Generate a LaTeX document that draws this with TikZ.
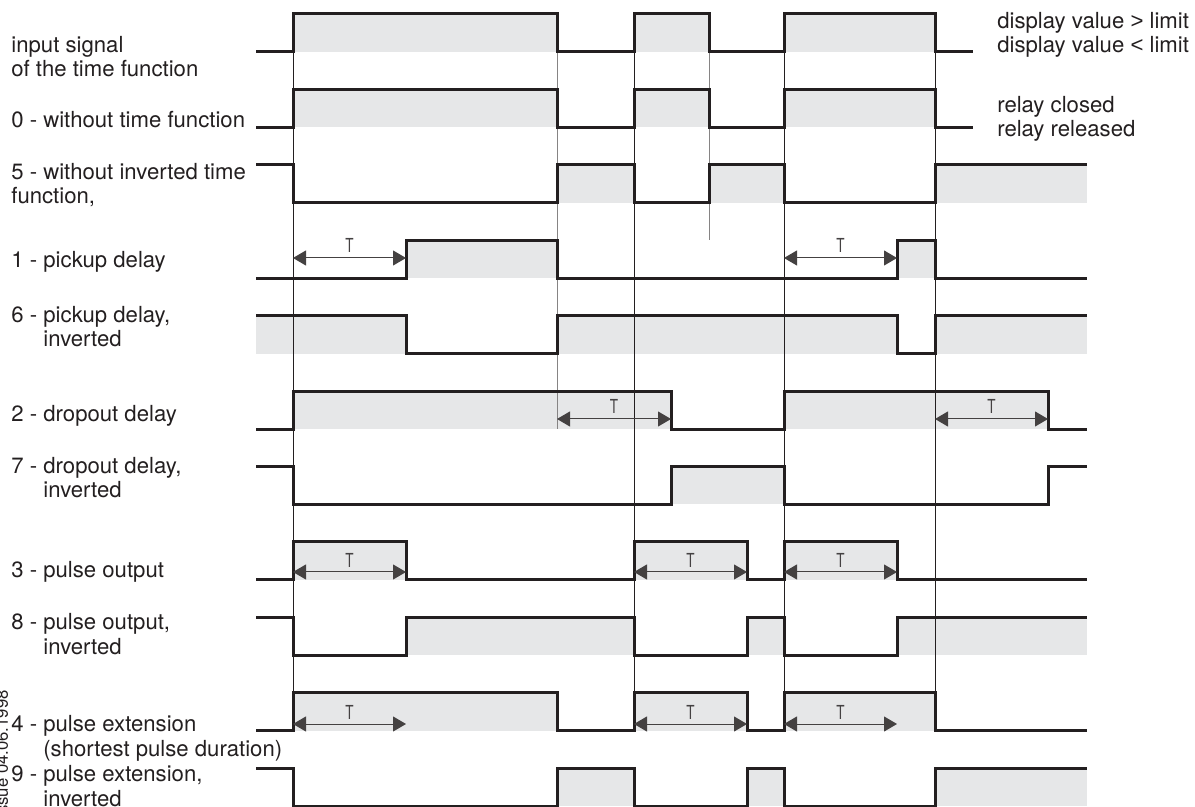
\documentclass[tikz,border=0pt]{standalone}
\usepackage{fontspec}
\setmainfont{TeX Gyre Heros}
\newfontfamily\relsym{Liberation Sans}
\usetikzlibrary{arrows.meta,positioning}

\definecolor{ink}{RGB}{35,31,32}
\definecolor{bgshade}{RGB}{230,231,232}
\newcommand{\ind}{\hphantom{0 - }}
% row / start point / transitions (x/level) / shaded spans
\newcommand{\timingrows}{%
    0/{256,52}/{293/14,557/52,634/14,709/52,784/14,935/52,973/52}/{293/557,634/709,784/935},
    1/{256,52}/{293/14,557/52,634/14,709/52,784/14,935/52,973/52}/{293/557,634/709,784/935},
    2/{256,14}/{293/52,557/14,634/52,709/14,784/52,935/14,1087/14}/{557/634,709/784,935/1087},
    3/{256,52}/{406/14,557/52,897/14,935/52,1087/52}/{406/557,897/935},
    4/{256,14}/{406/52,557/14,897/52,935/14,1087/14}/{256/406,557/897,935/1087},
    5/{256,52}/{293/14,671/52,784/14,1048/52,1087/52}/{293/671,784/1048},
    6/{256,14}/{293/52,671/14,784/52,1048/14,1087/14}/{671/784},
    7/{256,52}/{293/14,406/52,634/14,747/52,784/14,897/52,1087/52}/{293/406,634/747,784/897},
    8/{256,14}/{293/52,406/14,634/52,747/14,784/52,897/14,1087/14}/{406/634,747/784,897/1087},
    9/{256,52}/{293/14,557/52,634/14,747/52,784/14,935/52,1087/52}/{293/557,634/747,784/935},
    10/{256,14}/{293/52,557/14,634/52,747/14,784/52,935/14,1087/14}/{557/634,747/784,935/1087}}

\begin{document}
\begin{tikzpicture}[
        x=0.2mm, y=-0.2mm,
        font=\fontsize{12.6}{14.2}\selectfont,
        lbl/.style={anchor=base west, align=left, inner sep=0pt, text=ink},
        tlbl/.style={inner sep=0pt, text=ink!85, font=\fontsize{11}{12}\selectfont},
        signal/.style={draw=ink, line width=0.6mm},
        level/.style={fill=bgshade},
        edge/.style={draw=ink, line width=0.2mm},
        faint/.style={draw=ink!55, line width=0.2mm},
        dim/.style={{Triangle[length=2.6mm,width=3mm]}-{Triangle[length=2.6mm,width=3mm]}, draw=ink!85, line width=0.2mm}
    ]
    \useasboundingbox (0,0) rectangle (1195,807);

    % shaded high levels
    \foreach \i/\start/\pts/\boxes in \timingrows {
        \begin{scope}[yshift={-15.08mm*\i}]
            \foreach \a/\b in \boxes {\fill[level] (\a,14) rectangle (\b,52);}
        \end{scope}
    }

    % switching instants
    \foreach \x/\yb/\st in {293/732/edge, 557/429/faint, 634/732/edge, 709/240/faint, 784/732/edge, 935/694/edge} {
        \draw[\st] (\x,14) -- (\x,\yb);
    }

    % signals
    \foreach \i/\start/\pts/\boxes in \timingrows {
        \begin{scope}[yshift={-15.08mm*\i}]
            \draw[signal] (\start) \foreach \x/\y in \pts {-| (\x,\y)};
        \end{scope}
    }

    % time T
    \foreach \n/\a/\b/\y in {pua/293/406/258, pub/784/897/258, doa/557/671/419, dob/935/1048/419,
            poa/293/406/572, pob/634/747/572, poc/784/897/572, pea/293/406/724, peb/634/747/724, pec/784/897/724} {
        \coordinate (\n-l) at (\a,\y);
        \coordinate (\n-r) at (\b,\y);
        \draw[dim] (\n-l) -- node[tlbl, above=0.9mm] (\n-t) {\scalebox{0.7}[1]{T}} (\n-r);
    }

    % labels (base = last line)
    \node[lbl] (lin) at (11,77) {input signal\\of the time function};
    \node[lbl] (lzero) at (11,128) {0 - without time function};
    \node[lbl] (lfive) at (11,204) {5 - without inverted time\\function,};
    \node[lbl] (lone) at (11,268) {1 - pickup delay};
    \node[lbl] (lsix) at (11,347) {6 - pickup delay,\\\ind inverted};
    \node[lbl] (ltwo) at (11,422) {2 - dropout delay};
    \node[lbl] (lseven) at (11,498) {7 - dropout delay,\\\ind inverted};
    \node[lbl] (lthree) at (11,578) {3 - pulse output};
    \node[lbl] (leight) at (11,654) {8 - pulse output,\\\ind inverted};
    \node[lbl] (lfour) at (11,756) {4 - pulse extension\\\ind (shortest pulse duration)};
    \node[lbl] (lnine) at (11,806) {9 - pulse extension,\\\ind inverted};

    \node[lbl] (ldisp) at (997,53) {display value {\relsym >} limit\\display value {\relsym <} limit};
    \node[lbl] (lrelay) at (997,137) {relay closed\\relay released};

    \node[rotate=90, anchor=base east, inner sep=0pt, text=ink, font=\fontsize{9.5}{10}\selectfont] (issue) at (8,690) {Issue 04.06.1998};
\end{tikzpicture}
\end{document}
